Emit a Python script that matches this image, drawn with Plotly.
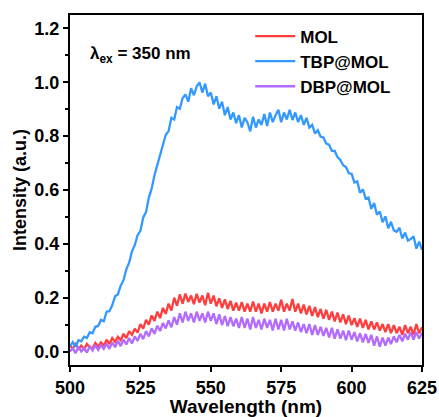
import plotly.graph_objects as go

wavelength = list(range(500, 626))

tbp_mol = [0.02, 0.035, 0.018, 0.042, 0.038, 0.055, 0.05, 0.072, 0.068, 0.092,
           0.095, 0.118, 0.112, 0.148, 0.15, 0.172, 0.205, 0.212, 0.245, 0.265,
           0.305, 0.33, 0.372, 0.395, 0.432, 0.448, 0.498, 0.518, 0.572, 0.605,
           0.655, 0.692, 0.728, 0.762, 0.805, 0.818, 0.868, 0.862, 0.908, 0.902,
           0.942, 0.955, 0.928, 0.978, 0.952, 0.985, 1.0, 0.962, 0.995, 0.948,
           0.962, 0.918, 0.948, 0.902, 0.928, 0.878, 0.908, 0.862, 0.888, 0.848,
           0.878, 0.832, 0.868, 0.852, 0.818, 0.872, 0.832, 0.862, 0.842, 0.882,
           0.838, 0.888, 0.852, 0.878, 0.898, 0.852, 0.888, 0.862, 0.898, 0.86,
           0.888, 0.852, 0.878, 0.842, 0.868, 0.832, 0.842, 0.81, 0.822, 0.798,
           0.795, 0.772, 0.768, 0.745, 0.745, 0.722, 0.712, 0.692, 0.685, 0.662,
           0.66, 0.628, 0.632, 0.59, 0.602, 0.568, 0.572, 0.53, 0.552, 0.508,
           0.52, 0.48, 0.502, 0.458, 0.482, 0.45, 0.445, 0.46, 0.42, 0.442,
           0.412, 0.418, 0.428, 0.382, 0.408, 0.378]

mol = [0.02, 0.012, 0.028, 0.01, 0.022, 0.008, 0.028, 0.016, 0.012, 0.032,
       0.018, 0.034, 0.022, 0.044, 0.028, 0.05, 0.036, 0.055, 0.042, 0.066,
       0.05, 0.076, 0.062, 0.085, 0.07, 0.102, 0.085, 0.118, 0.1, 0.134,
       0.114, 0.148, 0.124, 0.162, 0.14, 0.178, 0.152, 0.2, 0.17, 0.212,
       0.178, 0.215, 0.184, 0.208, 0.176, 0.214, 0.182, 0.208, 0.172, 0.218,
       0.178, 0.208, 0.168, 0.198, 0.162, 0.194, 0.158, 0.188, 0.152, 0.182,
       0.152, 0.184, 0.148, 0.178, 0.148, 0.186, 0.148, 0.178, 0.142, 0.178,
       0.148, 0.184, 0.148, 0.178, 0.152, 0.192, 0.148, 0.178, 0.152, 0.195,
       0.148, 0.178, 0.142, 0.174, 0.138, 0.17, 0.132, 0.165, 0.128, 0.158,
       0.122, 0.155, 0.118, 0.148, 0.112, 0.145, 0.108, 0.138, 0.102, 0.134,
       0.098, 0.124, 0.092, 0.122, 0.088, 0.118, 0.082, 0.112, 0.082, 0.108,
       0.078, 0.102, 0.072, 0.102, 0.068, 0.098, 0.068, 0.092, 0.062, 0.098,
       0.068, 0.092, 0.062, 0.102, 0.068, 0.09]

dbp_mol = [0.0, 0.012, -0.006, 0.018, 0.0, 0.014, -0.004, 0.02, 0.004, 0.024,
           0.006, 0.024, 0.01, 0.03, 0.01, 0.034, 0.016, 0.04, 0.02, 0.044,
           0.026, 0.05, 0.03, 0.056, 0.04, 0.066, 0.046, 0.076, 0.056, 0.086,
           0.066, 0.096, 0.076, 0.106, 0.086, 0.116, 0.09, 0.128, 0.1, 0.142,
           0.108, 0.148, 0.114, 0.142, 0.108, 0.148, 0.114, 0.142, 0.108, 0.148,
           0.114, 0.142, 0.102, 0.138, 0.098, 0.132, 0.094, 0.128, 0.094, 0.122,
           0.088, 0.128, 0.088, 0.122, 0.082, 0.128, 0.088, 0.118, 0.082, 0.122,
           0.088, 0.118, 0.078, 0.122, 0.082, 0.118, 0.078, 0.122, 0.082, 0.112,
           0.078, 0.108, 0.072, 0.102, 0.068, 0.102, 0.062, 0.098, 0.062, 0.092,
           0.058, 0.088, 0.052, 0.088, 0.048, 0.082, 0.048, 0.078, 0.042, 0.078,
           0.044, 0.072, 0.038, 0.068, 0.034, 0.066, 0.032, 0.062, 0.022, 0.056,
           0.018, 0.052, 0.022, 0.052, 0.028, 0.056, 0.034, 0.062, 0.038, 0.066,
           0.044, 0.072, 0.044, 0.072, 0.048, 0.07]

series_names = ["MOL", "TBP@MOL", "DBP@MOL"]
series_values = [mol, tbp_mol, dbp_mol]
series_colors = ["#FF3D3D", "#3399FF", "#B36BFF"]

x_ticks = [500, 525, 550, 575, 600, 625]
y_ticks = [0.0, 0.2, 0.4, 0.6, 0.8, 1.0, 1.2]
y_tick_labels = ["0.0", "0.2", "0.4", "0.6", "0.8", "1.0", "1.2"]

FONT = "Liberation Sans, Arial, sans-serif"

fig = go.Figure()
for name, vals, col in zip(series_names, series_values, series_colors):
    fig.add_trace(go.Scatter(x=wavelength, y=vals, mode="lines", name=name,
                             line=dict(color=col, width=2.3)))

axis_common = dict(showline=True, linecolor="black", linewidth=2, mirror=True,
                   ticks="outside", ticklen=5, tickwidth=2, tickcolor="black",
                   showgrid=False, zeroline=False,
                   tickfont=dict(family=FONT, size=18, color="black", weight="bold"))

fig.update_xaxes(range=[500, 625], tickvals=x_ticks, automargin=False,
                 title=dict(text="Wavelength (nm)", standoff=6,
                            font=dict(family=FONT, size=19, color="black", weight="bold")),
                 **axis_common)
fig.update_yaxes(range=[-0.05, 1.25], tickvals=y_ticks, ticktext=y_tick_labels,
                 automargin=True,
                 minor=dict(dtick=0.1, ticks="outside", ticklen=3, tickwidth=2, tickcolor="black"),
                 title=dict(text="Intensity (a.u.)", standoff=3,
                            font=dict(family=FONT, size=18, color="black", weight="bold")),
                 **axis_common)

fig.add_annotation(x=0.05, y=0.885, xref="paper", yref="paper", xanchor="left", yanchor="middle",
                   text="λ<sub>ex</sub> = 350 nm", showarrow=False,
                   font=dict(family=FONT, size=17, color="black", weight="bold"))

fig.update_layout(
    width=439, height=417,
    margin=dict(l=70, r=17, t=15, b=52),
    paper_bgcolor="white", plot_bgcolor="white",
    showlegend=True,
    legend=dict(x=0.512, y=0.99, xanchor="left", yanchor="top",
                bgcolor="rgba(0,0,0,0)", itemwidth=40, tracegroupgap=0,
                font=dict(family=FONT, size=17, color="black", weight="bold")),
)

fig.write_html("out.html")
